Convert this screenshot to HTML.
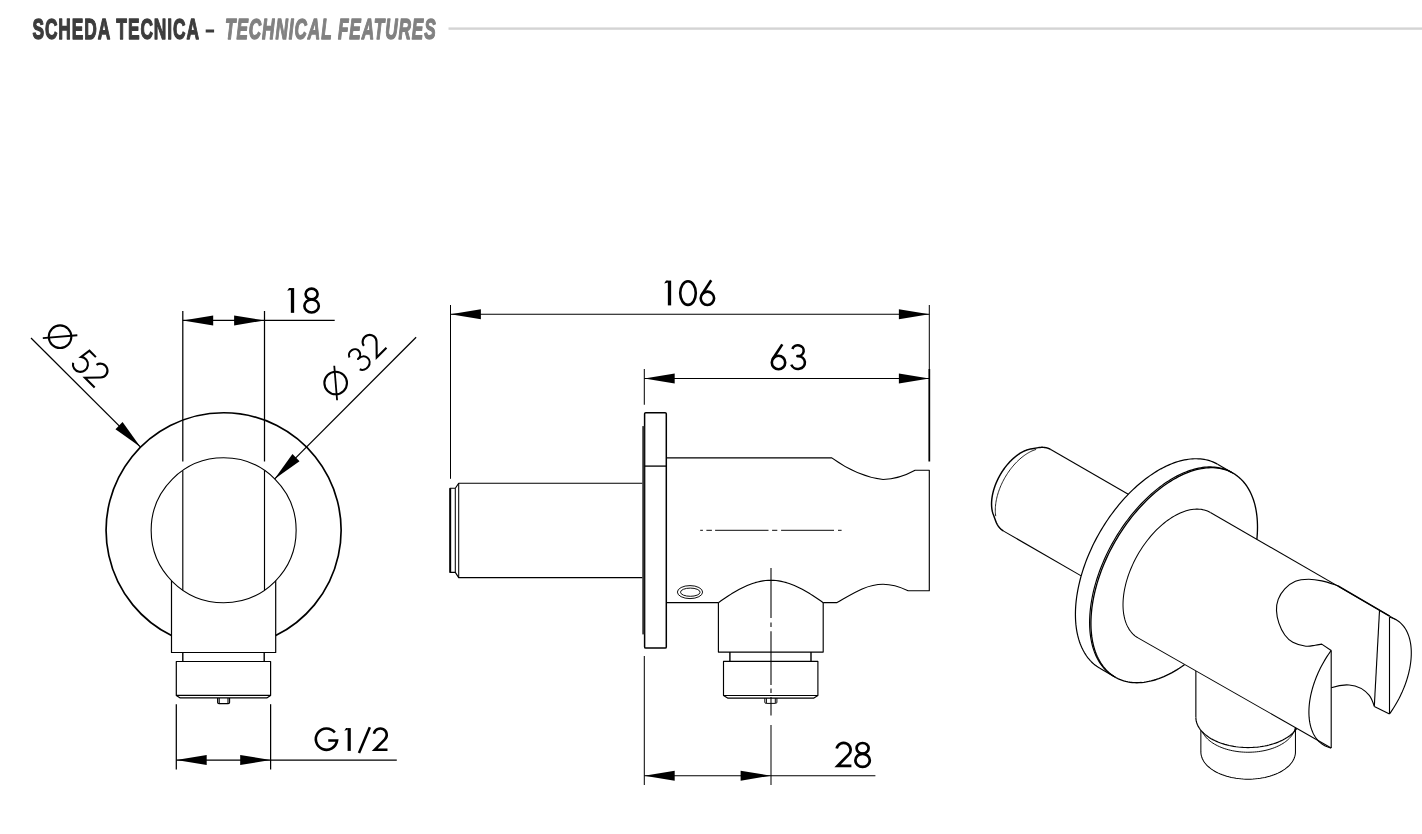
<!DOCTYPE html>
<html><head><meta charset="utf-8"><title>Scheda tecnica</title>
<style>
html,body{margin:0;padding:0;background:#fff;}
body{width:1422px;height:834px;overflow:hidden;font-family:"Liberation Sans",sans-serif;}
svg{display:block}
</style></head><body>
<svg width="1422" height="834" viewBox="0 0 1422 834">
<rect width="1422" height="834" fill="#fff"/>
<g style="filter:grayscale(1)"><text x="32.4" y="39.3" font-family="Liberation Sans, sans-serif" font-weight="bold" font-size="30.3" fill="#3c3c3e" stroke="#3c3c3e" stroke-width="1.4" stroke-linejoin="round" letter-spacing="1.6" textLength="167.6" lengthAdjust="spacingAndGlyphs">SCHEDA TECNICA</text><rect x="205.7" y="29.5" width="8.4" height="3.0" fill="#3c3c3e" stroke="none"/><text x="225.0" y="39.3" font-family="Liberation Sans, sans-serif" font-weight="bold" font-style="italic" font-size="30.3" fill="#808184" stroke="#808184" stroke-width="1.4" stroke-linejoin="round" letter-spacing="1.6" textLength="211.6" lengthAdjust="spacingAndGlyphs">TECHNICAL FEATURES</text><rect x="448.5" y="27.4" width="973.5" height="2.4" fill="#d4d4d4" stroke="none"/></g>
<g fill="none" stroke="#000" stroke-linecap="butt" stroke-linejoin="round">
<circle cx="223.65" cy="530.3" r="72.5" stroke-width="1.1"/>
<path d="M171.5,635.59 A117.5,117.5 0 1 1 275.7,635.59" stroke-width="1.68" />
<path d="M171.5,580.66 L171.5,652.5 L275.7,652.5 L275.7,580.66" stroke-width="1.2" />
<line x1="182.80" y1="470.40" x2="182.80" y2="590.20" stroke-width="1.15" />
<line x1="264.50" y1="470.40" x2="264.50" y2="590.20" stroke-width="1.15" />
<line x1="182.80" y1="311.00" x2="182.80" y2="461.50" stroke-width="1.25" />
<line x1="264.50" y1="311.00" x2="264.50" y2="461.50" stroke-width="1.25" />
<line x1="182.80" y1="320.40" x2="334.70" y2="320.40" stroke-width="1.25" />
<polygon points="182.80,320.40 213.20,315.40 213.20,325.40" fill="#000" stroke="none"/>
<polygon points="264.50,320.40 234.10,325.40 234.10,315.40" fill="#000" stroke="none"/>
<g transform="translate(292.50,312.85)"><path d="M0,0 L0,-24.8" fill="none" stroke="#000" stroke-width="3.30"/><polygon points="-1.5,-24.8 -3.4,-24.8 -5.3,-22.0 -1.5,-22.9" fill="#000" stroke="none"/></g><g transform="translate(311.60,312.85)"><ellipse cx="0" cy="-18.9" rx="6.0" ry="5.3" fill="none" stroke="#000" stroke-width="2.6"/><ellipse cx="0" cy="-6.9" rx="7.2" ry="6.5" fill="none" stroke="#000" stroke-width="2.6"/></g>
<line x1="182.80" y1="652.50" x2="182.80" y2="661.50" stroke-width="1.4" />
<line x1="264.20" y1="652.50" x2="264.20" y2="661.50" stroke-width="1.4" />
<path d="M176.3,661.5 L270.6,661.5 L270.6,695.4 L266.8,697.9 L180.2,697.9 L176.3,695.4 Z M176.3,695.4 L270.6,695.4" stroke-width="1.2" />
<path d="M217.6,697.9 L217.6,702.4 Q217.6,703.6 219,703.6 L228.2,703.6 Q229.6,703.6 229.6,702.4 L229.6,697.9 M219.2,697.9 L219.2,703.2 M228,697.9 L228,703.2" stroke-width="1.1" />
<line x1="176.30" y1="704.20" x2="176.30" y2="769.50" stroke-width="1.25" />
<line x1="270.60" y1="704.20" x2="270.60" y2="769.50" stroke-width="1.25" />
<line x1="176.30" y1="760.00" x2="396.80" y2="760.00" stroke-width="1.25" />
<polygon points="176.30,760.00 206.70,755.00 206.70,765.00" fill="#000" stroke="none"/>
<polygon points="270.60,760.00 240.20,765.00 240.20,755.00" fill="#000" stroke="none"/>
<g transform="translate(326.40,750.90) scale(0.92)"><path d="M9.2,-20.0 A11.6,11.6 0 1 0 11.6,-11.3 L2.0,-11.3" fill="none" stroke="#000" stroke-width="2.7717391304347823" stroke-linejoin="miter"/></g><g transform="translate(349.20,750.90) scale(0.92)"><path d="M0,0 L0,-24.8" fill="none" stroke="#000" stroke-width="3.47"/><polygon points="-1.5,-24.8 -3.4,-24.8 -5.3,-22.0 -1.5,-22.9" fill="#000" stroke="none"/></g><g transform="translate(364.50,750.90) scale(0.92)"><path d="M-6.0,2.4 L5.8,-25.6" fill="none" stroke="#000" stroke-width="2.7717391304347823"/></g><g transform="translate(380.30,750.90) scale(0.92)"><path d="M-6.9,-18.6 A7.0,6.9 0 1 1 5.0,-12.6 L-6.0,-1.35 L7.8,-1.35" fill="none" stroke="#000" stroke-width="2.7717391304347823" stroke-linejoin="miter"/></g>
<line x1="31.00" y1="338.00" x2="140.50" y2="447.10" stroke-width="1.25" />
<polygon points="140.50,447.10 115.47,429.14 122.54,422.07" fill="#000" stroke="none"/>
<line x1="416.10" y1="337.20" x2="274.50" y2="479.10" stroke-width="1.25" />
<polygon points="274.50,479.10 292.46,454.07 299.53,461.14" fill="#000" stroke="none"/>
<g transform="translate(31.00,338.00) rotate(45)"><g transform="translate(19.60,-7.00)"><circle cx="0" cy="-14.5" r="11.3" fill="none" stroke="#000" stroke-width="2.1"/><path d="M-11.2,-1.3 L11.2,-27.7" fill="none" stroke="#000" stroke-width="1.80"/></g><g transform="translate(53.70,-8.70)"><path d="M5.7,-23.65 L-3.4,-23.65 L-4.9,-13.4 A7.5,7.5 0 1 1 -6.4,-3.5" fill="none" stroke="#000" stroke-width="2.1" stroke-linejoin="miter"/></g><g transform="translate(72.20,-8.70)"><path d="M-6.9,-18.6 A7.0,6.9 0 1 1 5.0,-12.6 L-6.0,-1.35 L7.8,-1.35" fill="none" stroke="#000" stroke-width="2.1" stroke-linejoin="miter"/></g></g>
<g transform="translate(274.50,479.10) rotate(-45)"><g transform="translate(111.20,-10.20)"><circle cx="0" cy="-14.5" r="11.3" fill="none" stroke="#000" stroke-width="2.1"/><path d="M-11.2,-1.3 L11.2,-27.7" fill="none" stroke="#000" stroke-width="1.80"/></g><g transform="translate(144.60,-12.40)"><path d="M-5.6,-20.6 A5.8,5.4 0 1 1 -0.6,-13.5 L0.2,-13.5 A7.0,6.4 0 1 1 -6.7,-5.0" fill="none" stroke="#000" stroke-width="2.1"/></g><g transform="translate(164.30,-12.40)"><path d="M-6.9,-18.6 A7.0,6.9 0 1 1 5.0,-12.6 L-6.0,-1.35 L7.8,-1.35" fill="none" stroke="#000" stroke-width="2.1" stroke-linejoin="miter"/></g></g>
<line x1="450.50" y1="305.00" x2="450.50" y2="478.80" stroke-width="1.012" />
<line x1="929.30" y1="305.00" x2="929.30" y2="369.00" stroke-width="1.012" />
<line x1="929.30" y1="369.00" x2="929.30" y2="461.50" stroke-width="1.76" />
<line x1="450.50" y1="314.30" x2="929.30" y2="314.30" stroke-width="1.012" />
<polygon points="450.50,314.30 480.90,309.30 480.90,319.30" fill="#000" stroke="none"/>
<polygon points="929.30,314.30 898.90,319.30 898.90,309.30" fill="#000" stroke="none"/>
<g transform="translate(669.50,305.40)"><path d="M0,0 L0,-24.8" fill="none" stroke="#000" stroke-width="3.30"/><polygon points="-1.5,-24.8 -3.4,-24.8 -5.3,-22.0 -1.5,-22.9" fill="#000" stroke="none"/></g><g transform="translate(688.00,305.40)"><ellipse cx="0" cy="-12.3" rx="7.8" ry="11.8" fill="none" stroke="#000" stroke-width="2.6"/></g><g transform="translate(707.40,305.40)"><ellipse cx="0" cy="-7.1" rx="6.7" ry="6.7" fill="none" stroke="#000" stroke-width="2.6"/><path d="M3.8,-25.2 L-5.9,-10.3" fill="none" stroke="#000" stroke-width="2.6"/></g>
<line x1="644.30" y1="369.00" x2="644.30" y2="404.70" stroke-width="1.012" />
<line x1="644.30" y1="378.40" x2="929.30" y2="378.40" stroke-width="1.012" />
<polygon points="644.30,378.40 674.70,373.40 674.70,383.40" fill="#000" stroke="none"/>
<polygon points="929.30,378.40 898.90,383.40 898.90,373.40" fill="#000" stroke="none"/>
<g transform="translate(778.50,369.60)"><ellipse cx="0" cy="-7.1" rx="6.7" ry="6.7" fill="none" stroke="#000" stroke-width="2.6"/><path d="M3.8,-25.2 L-5.9,-10.3" fill="none" stroke="#000" stroke-width="2.6"/></g><g transform="translate(798.00,369.60)"><path d="M-5.6,-20.6 A5.8,5.4 0 1 1 -0.6,-13.5 L0.2,-13.5 A7.0,6.4 0 1 1 -6.7,-5.0" fill="none" stroke="#000" stroke-width="2.6"/></g>
<path d="M642.5,483.2 L458.7,483.2 L455.3,488.3 L450,488.3 L450,572.4 L455.3,572.4 L458.7,577.6 L642.5,577.6" stroke-width="1.144" />
<line x1="450.30" y1="488.30" x2="450.30" y2="572.40" stroke-width="1.76" />
<line x1="455.30" y1="488.30" x2="455.30" y2="572.40" stroke-width="1.056" />
<line x1="458.70" y1="483.20" x2="458.70" y2="577.60" stroke-width="1.056" />
<path d="M644.6,413.8 Q644.6,412.7 645.8,412.7 L665.1,412.7 Q666.3,412.7 666.3,413.8 L666.3,646.9 Q666.3,648 665.1,648 L645.8,648 Q644.6,648 644.6,646.9 Z" stroke-width="1.496" />
<line x1="643.30" y1="426.10" x2="643.30" y2="634.40" stroke-width="2.112" stroke="#333"/>
<line x1="644.60" y1="466.10" x2="666.30" y2="466.10" stroke-width="1.32" />
<path d="M666.3,457.9 L831.8,457.9 Q857.5,476.55 883.1,479.5 Q898.9,479.15 915.1,470.3 L929.3,470.3 L929.3,590.7 L908.1,590.7 C900,587 892,584.3 883.1,584.3 C866,584.3 852,594 837.0,602.6 L823.2,602.6" stroke-width="1.144" />
<line x1="666.30" y1="602.60" x2="718.40" y2="602.60" stroke-width="1.144" />
<path d="M718.40,602.70 L721.02,600.83 L723.64,599.00 L726.26,597.23 L728.88,595.52 L731.50,593.86 L734.12,592.28 L736.74,590.77 L739.36,589.33 L741.98,587.98 L744.60,586.71 L747.22,585.55 L749.84,584.48 L752.46,583.52 L755.08,582.67 L757.70,581.95 L760.32,581.35 L762.94,580.87 L765.56,580.53 L768.18,580.33 L770.80,580.26 L773.42,580.33 L776.04,580.53 L778.66,580.87 L781.28,581.35 L783.90,581.95 L786.52,582.67 L789.14,583.52 L791.76,584.48 L794.38,585.55 L797.00,586.71 L799.62,587.98 L802.24,589.33 L804.86,590.77 L807.48,592.28 L810.10,593.86 L812.72,595.52 L815.34,597.23 L817.96,599.00 L820.58,600.83 L823.20,602.70" stroke-width="1.144" />
<path d="M718.4,602.6 L718.4,652.1 L823.2,652.1 L823.2,602.6" stroke-width="1.144" />
<line x1="729.90" y1="652.10" x2="729.90" y2="661.40" stroke-width="1.408" />
<line x1="811.00" y1="652.10" x2="811.00" y2="661.40" stroke-width="1.408" />
<path d="M723.5,661.4 L817.9,661.4 L817.9,695.5 L813.9,698.1 L727.6,698.1 L723.5,695.5 Z M723.5,695.5 L817.9,695.5" stroke-width="1.144" />
<path d="M764.8,698.1 L764.8,702.2 Q764.8,703.4 766.2,703.4 L775.5,703.4 Q776.9,703.4 776.9,702.2 L776.9,698.1 M766.4,698.1 L766.4,703 M775.3,698.1 L775.3,703" stroke-width="0.968" />
<ellipse cx="690" cy="592.1" rx="12.6" ry="6.5" stroke-width="0.95"/>
<ellipse cx="690.3" cy="592.2" rx="9.8" ry="4.1" stroke-width="0.95"/>
<path d="M700.2,530.3 H702.9 M706.4,530.3 H711.9 M715.1,530.3 H768.5 M772.1,530.3 H777.3 M781.1,530.3 H834 M838,530.3 H841.6" stroke-width="0.968" />
<path d="M771,568 V618 M771,622.6 V627 M771,631.3 V685 M771,688.5 V693 M771,697 V715.4" stroke-width="1.056" />
<line x1="771.00" y1="725.00" x2="771.00" y2="785.10" stroke-width="1.012" />
<line x1="644.30" y1="656.10" x2="644.30" y2="785.10" stroke-width="1.012" />
<line x1="644.30" y1="775.70" x2="875.40" y2="775.70" stroke-width="1.012" />
<polygon points="644.30,775.70 674.70,770.70 674.70,780.70" fill="#000" stroke="none"/>
<polygon points="771.00,775.70 740.60,780.70 740.60,770.70" fill="#000" stroke="none"/>
<g transform="translate(843.60,767.20)"><path d="M-6.9,-18.6 A7.0,6.9 0 1 1 5.0,-12.6 L-6.0,-1.35 L7.8,-1.35" fill="none" stroke="#000" stroke-width="2.7" stroke-linejoin="miter"/></g><g transform="translate(862.60,767.20)"><ellipse cx="0" cy="-18.9" rx="6.0" ry="5.3" fill="none" stroke="#000" stroke-width="2.7"/><ellipse cx="0" cy="-6.9" rx="7.2" ry="6.5" fill="none" stroke="#000" stroke-width="2.7"/></g>
<path d="M1003.64,531.11 L1003.27,530.89 L1002.91,530.67 L1002.56,530.43 L1002.21,530.18 L1001.87,529.92 L1001.53,529.65 L1001.20,529.38 L1000.88,529.09 L1000.56,528.79 L1000.25,528.48 L999.94,528.17 L999.65,527.84 L999.36,527.51 L999.07,527.17 L998.80,526.81 L998.53,526.45 L998.26,526.08 L998.01,525.70 L997.76,525.31 L997.52,524.92 L997.28,524.51 L997.06,524.10 L996.84,523.67 L996.63,523.24 L996.42,522.81 L996.23,522.36 L996.04,521.90 L995.86,521.44 L993.15,514.12 L993.00,513.69 L992.86,513.26 L992.73,512.82 L992.60,512.38 L992.48,511.93 L992.37,511.47 L992.27,511.01 L992.17,510.54 L992.08,510.07 L992.00,509.59 L991.92,509.10 L991.85,508.61 L991.79,508.11 L991.73,507.61 L991.69,507.10 L991.65,506.59 L991.61,506.07 L991.59,505.55 L991.57,505.03 L991.56,504.49 L991.55,503.96 L991.56,503.42 L991.57,502.88 L991.59,502.33 L991.61,501.78 L991.65,501.22 L991.69,500.66 L991.73,500.10 L991.79,499.54 L991.85,498.97 L991.92,498.40 L992.00,497.82 L992.08,497.25 L992.17,496.67 L992.27,496.08 L992.37,495.50 L992.48,494.91 L992.60,494.33 L992.73,493.74 L992.86,493.14 L993.00,492.55 L993.15,491.96 L993.31,491.36 L993.47,490.76 L993.63,490.16 L993.81,489.57 L993.99,488.97 L994.18,488.37 L994.37,487.77 L994.58,487.16 L994.78,486.56 L995.00,485.96 L995.22,485.36 L995.45,484.76 L995.68,484.16 L995.92,483.56 L996.17,482.97 L996.42,482.37 L996.68,481.77 L996.94,481.18 L997.21,480.58 L997.49,479.99 L997.77,479.40 L998.06,478.81 L998.35,478.23 L998.65,477.64 L998.96,477.06 L999.27,476.48 L999.58,475.90 L999.91,475.33 L1000.23,474.76 L1000.56,474.19 L1000.90,473.63 L1001.24,473.06 L1001.59,472.50 L1001.94,471.95 L1002.30,471.40 L1002.66,470.85 L1003.02,470.31 L1003.39,469.77 L1003.77,469.23 L1004.15,468.70 L1004.53,468.17 L1004.92,467.65 L1005.31,467.14 L1005.70,466.62 L1006.10,466.12 L1006.50,465.61 L1006.91,465.12 L1007.32,464.62 L1007.73,464.14 L1008.15,463.66 L1008.57,463.18 L1008.99,462.71 L1009.42,462.25 L1009.84,461.79 L1010.28,461.34 L1010.71,460.90 L1011.15,460.46 L1011.59,460.03 L1012.03,459.60 L1012.47,459.19 L1012.92,458.77 L1013.36,458.37 L1013.81,457.97 L1014.27,457.58 L1014.72,457.20 L1015.17,456.82 L1015.63,456.46 L1016.09,456.09 L1016.55,455.74 L1017.01,455.40 L1017.47,455.06 L1017.93,454.73 L1018.39,454.41 L1018.86,454.09 L1019.32,453.79 L1019.79,453.49 L1020.25,453.20 L1020.72,452.92 L1021.18,452.64 L1021.65,452.38 L1022.11,452.12 L1022.58,451.88 L1023.04,451.64 L1023.51,451.41 L1023.97,451.19 L1024.43,450.97 L1024.90,450.77 L1025.36,450.58 L1025.82,450.39 L1026.28,450.21 L1026.73,450.05 L1027.19,449.89 L1027.64,449.74 L1028.10,449.60 L1028.55,449.47 L1029.00,449.34 L1029.45,449.23 L1029.89,449.13 L1030.34,449.03 L1030.78,448.95 L1038.47,447.63 L1038.96,447.55 L1039.45,447.49 L1039.94,447.44 L1040.42,447.40 L1040.90,447.36 L1041.37,447.34 L1041.84,447.33 L1042.31,447.33 L1042.78,447.34 L1043.24,447.36 L1043.69,447.39 L1044.15,447.44 L1044.59,447.49 L1045.04,447.55 L1045.48,447.63 L1045.91,447.71 L1046.34,447.81 L1046.77,447.91 L1047.19,448.03 L1047.60,448.15 L1048.02,448.29 L1048.42,448.44 L1048.82,448.60 L1049.22,448.76 L1049.61,448.94 L1049.99,449.13 L1050.37,449.33 L1050.74,449.54" stroke-width="1.462" />
<path d="M995.75,516.16 L995.59,515.01 L995.46,513.84 L995.37,512.64 L995.32,511.42 L995.30,510.17 L995.32,508.91 L995.37,507.62 L995.46,506.32 L995.58,505.00 L995.74,503.67 L995.93,502.32 L996.16,500.96 L996.43,499.59 L996.73,498.21 L997.06,496.82 L997.43,495.43 L997.83,494.03 L998.26,492.63 L998.72,491.23 L999.22,489.82 L999.75,488.42 L1000.31,487.02 L1000.90,485.62 L1001.52,484.24 L1002.17,482.85 L1002.85,481.48 L1003.55,480.12 L1004.28,478.77 L1005.04,477.43 L1005.83,476.10 L1006.63,474.80 L1007.46,473.51 L1008.32,472.24 L1009.19,470.99 L1010.09,469.76 L1011.00,468.55 L1011.94,467.37 L1012.89,466.21 L1013.86,465.09 L1014.84,463.98 L1015.84,462.91 L1016.86,461.87 L1017.88,460.86 L1018.92,459.88 L1019.96,458.94 L1021.02,458.03 L1022.08,457.16 L1023.16,456.32 L1024.23,455.52 L1025.31,454.76 L1026.40,454.04 L1027.48,453.35 L1028.57,452.71 L1029.66,452.11 L1030.74,451.55 L1031.83,451.04 L1032.91,450.56 L1033.98,450.14 L1035.05,449.75 L1036.11,449.41" stroke-width="0.86" />
<line x1="1050.74" y1="449.54" x2="1128.27" y2="494.30" stroke-width="1.118" />
<line x1="1003.64" y1="531.11" x2="1081.18" y2="575.88" stroke-width="1.118" />
<path d="M1099.81,668.27 L1098.29,667.35 L1096.81,666.35 L1095.37,665.29 L1093.98,664.16 L1092.63,662.96 L1091.33,661.70 L1090.07,660.37 L1088.86,658.97 L1087.69,657.52 L1086.58,656.00 L1085.51,654.41 L1084.50,652.77 L1083.53,651.07 L1082.62,649.31 L1081.76,647.50 L1080.95,645.62 L1080.20,643.70 L1079.49,641.72 L1078.85,639.69 L1078.26,637.60 L1077.72,635.47 L1077.24,633.30 L1076.81,631.07 L1076.44,628.80 L1076.13,626.49 L1075.87,624.14 L1075.68,621.75 L1075.53,619.32 L1075.45,616.85 L1075.42,614.35 L1075.45,611.81 L1075.53,609.25 L1075.68,606.65 L1075.87,604.03 L1076.13,601.38 L1076.44,598.71 L1076.81,596.02 L1077.24,593.30 L1077.72,590.57 L1078.26,587.82 L1078.85,585.05 L1079.50,582.27 L1080.20,579.48 L1080.95,576.69 L1081.76,573.88 L1082.62,571.07 L1083.53,568.26 L1084.50,565.44 L1085.51,562.63 L1086.58,559.82 L1087.69,557.01 L1088.86,554.21 L1090.07,551.41 L1091.33,548.63 L1092.63,545.86 L1093.98,543.10 L1095.38,540.36 L1096.81,537.64 L1098.29,534.94 L1099.82,532.25 L1101.38,529.59 L1102.98,526.96 L1104.62,524.35 L1106.30,521.78 L1108.01,519.23 L1109.76,516.71 L1111.54,514.23 L1113.35,511.79 L1115.19,509.38 L1117.07,507.01 L1118.97,504.68 L1120.90,502.39 L1122.86,500.15 L1124.84,497.95 L1126.84,495.80 L1128.86,493.70 L1130.91,491.65 L1132.98,489.65 L1135.06,487.70 L1137.16,485.80 L1139.27,483.96 L1141.40,482.18 L1143.54,480.45 L1145.69,478.79 L1147.84,477.18 L1150.01,475.63 L1152.18,474.15 L1154.36,472.73 L1156.54,471.37 L1158.72,470.08 L1160.90,468.85 L1163.07,467.69 L1165.25,466.60 L1167.42,465.58 L1169.59,464.62 L1171.75,463.74 L1173.89,462.93 L1176.03,462.18 L1178.16,461.51 L1180.27,460.91 L1182.37,460.38 L1184.46,459.93 L1186.52,459.54 L1188.57,459.23 L1190.59,459.00 L1192.59,458.83 L1194.58,458.74 L1196.53,458.73 L1198.46,458.79 L1200.36,458.92 L1202.24,459.12 L1204.08,459.40 L1205.89,459.76 L1207.68,460.18 L1209.42,460.68 L1211.14,461.25 L1212.81,461.89 L1214.45,462.60 L1216.05,463.39 L1217.61,464.24" stroke-width="1.204" />
<line x1="1217.61" y1="464.24" x2="1233.10" y2="473.19" stroke-width="1.204" />
<line x1="1099.81" y1="668.27" x2="1115.30" y2="677.21" stroke-width="1.204" />
<path d="M1256.86,539.33 L1257.14,536.20 L1257.34,533.12 L1257.46,530.07 L1257.50,527.07 L1257.45,524.11 L1257.33,521.20 L1257.13,518.34 L1256.85,515.54 L1256.49,512.80 L1256.05,510.12 L1255.53,507.49 L1254.94,504.94 L1254.27,502.45 L1253.51,500.03 L1252.69,497.68 L1251.79,495.41 L1250.81,493.21 L1249.76,491.10 L1248.64,489.06 L1247.44,487.11 L1246.18,485.24 L1244.84,483.46 L1243.44,481.76 L1241.97,480.16 L1240.44,478.64 L1238.84,477.22 L1237.19,475.90 L1235.47,474.67 L1233.69,473.53 L1231.85,472.49 L1229.96,471.56 L1228.02,470.72 L1226.02,469.98 L1223.97,469.34 L1221.88,468.81 L1219.74,468.37 L1217.56,468.04 L1215.33,467.82 L1213.07,467.69 L1210.77,467.67 L1208.43,467.75 L1206.06,467.94 L1203.66,468.23 L1201.23,468.62 L1198.78,469.11 L1196.30,469.71 L1193.80,470.40 L1191.28,471.20 L1188.74,472.10 L1186.20,473.10 L1183.63,474.19 L1181.07,475.38 L1178.49,476.67 L1175.91,478.05 L1173.33,479.53 L1170.75,481.10 L1168.17,482.75 L1165.60,484.50 L1163.03,486.33 L1160.48,488.25 L1157.94,490.26 L1155.42,492.34 L1152.91,494.50 L1150.43,496.75 L1147.96,499.06 L1145.53,501.45 L1143.12,503.91 L1140.74,506.44 L1138.39,509.04 L1136.07,511.70 L1133.80,514.42 L1131.56,517.20 L1129.36,520.03 L1127.21,522.92 L1125.10,525.85 L1123.04,528.84 L1121.03,531.87 L1119.06,534.94 L1117.16,538.05 L1115.30,541.19 L1113.50,544.37 L1111.77,547.58 L1110.09,550.81 L1108.47,554.07 L1106.92,557.35 L1105.43,560.64 L1104.00,563.95 L1102.65,567.27 L1101.36,570.60 L1100.14,573.93 L1099.00,577.26 L1097.92,580.60 L1096.92,583.92 L1096.00,587.24 L1095.14,590.54 L1094.37,593.84 L1093.67,597.11 L1093.05,600.36 L1092.51,603.59 L1092.04,606.79 L1091.66,609.96 L1091.35,613.10 L1091.12,616.20 L1090.98,619.26 L1090.91,622.28 L1090.92,625.25 L1091.01,628.18 L1091.19,631.05 L1091.44,633.87 L1091.77,636.64 L1092.18,639.34 L1092.67,641.99 L1093.24,644.57 L1093.89,647.08 L1094.61,649.52 L1095.41,651.90 L1096.29,654.20 L1097.24,656.42 L1098.26,658.56 L1099.36,660.63 L1100.53,662.61 L1101.77,664.51 L1103.08,666.32 L1104.45,668.05 L1105.90,669.69 L1107.41,671.23 L1108.98,672.69 L1110.62,674.05 L1112.32,675.31 L1114.08,676.48 L1115.89,677.55 L1117.76,678.52 L1119.69,679.40 L1121.67,680.17 L1123.70,680.84 L1125.77,681.41 L1127.90,681.88 L1130.07,682.25 L1132.28,682.51 L1134.53,682.68 L1136.82,682.73 L1139.14,682.69 L1141.50,682.54 L1143.89,682.29 L1146.31,681.93 L1148.75,681.47 L1151.22,680.91 L1153.72,680.25 L1156.23,679.49 L1158.76,678.63 L1161.30,677.67 L1163.86,676.61 L1166.43,675.45 L1169.00,674.20 L1171.58,672.85 L1174.16,671.40 L1176.74,669.87 L1179.32,668.24 L1181.89,666.53 L1184.46,664.72" stroke-width="1.333" />
<path d="M1231.80,472.44 L1230.24,471.58 L1228.64,470.80 L1227.00,470.08 L1225.32,469.44 L1223.61,468.87 L1221.86,468.37 L1220.08,467.95 L1218.27,467.59 L1216.42,467.32 L1214.55,467.11 L1212.65,466.98 L1210.72,466.92 L1208.76,466.94 L1206.78,467.02 L1204.78,467.19 L1202.75,467.42 L1200.71,467.73 L1198.64,468.12 L1196.56,468.57 L1194.46,469.10 L1192.35,469.70 L1190.22,470.37 L1188.08,471.12 L1185.93,471.93 L1183.77,472.81 L1181.61,473.77 L1179.44,474.79 L1177.26,475.88 L1175.08,477.04 L1172.90,478.27 L1170.72,479.56 L1168.54,480.92 L1166.37,482.34 L1164.20,483.82 L1162.03,485.37 L1159.87,486.98 L1157.72,488.64 L1155.58,490.37 L1153.46,492.15 L1151.34,493.99 L1149.24,495.89 L1147.16,497.84 L1145.10,499.84 L1143.05,501.89 L1141.03,503.99 L1139.02,506.14 L1137.04,508.34 L1135.09,510.58 L1133.16,512.87 L1131.25,515.20 L1129.38,517.57 L1127.54,519.98 L1125.72,522.42 L1123.94,524.90 L1122.19,527.42 L1120.48,529.97 L1118.81,532.54 L1117.17,535.15 L1115.56,537.79 L1114.00,540.44 L1112.48,543.13 L1111.00,545.83 L1109.56,548.55 L1108.17,551.29 L1106.82,554.05 L1105.51,556.82 L1104.26,559.60 L1103.04,562.40 L1101.88,565.20 L1100.77,568.01 L1099.70,570.82 L1098.68,573.63 L1097.72,576.45 L1096.81,579.26 L1095.95,582.07 L1095.14,584.88 L1094.38,587.68 L1093.68,590.46 L1093.04,593.24 L1092.44,596.01 L1091.91,598.76 L1091.43,601.49 L1091.00,604.21 L1090.63,606.90 L1090.32,609.57 L1090.06,612.22 L1089.86,614.85 L1089.72,617.44 L1089.63,620.01 L1089.61,622.54 L1089.63,625.04 L1089.72,627.51 L1089.86,629.94 L1090.06,632.33 L1090.32,634.68 L1090.63,636.99 L1091.00,639.26 L1091.43,641.49 L1091.91,643.66 L1092.44,645.79 L1093.03,647.88 L1093.68,649.91 L1094.38,651.89 L1095.14,653.81 L1095.95,655.69 L1096.81,657.50 L1097.72,659.26 L1098.68,660.96 L1099.70,662.61 L1100.76,664.19 L1101.88,665.71 L1103.04,667.17 L1104.25,668.56 L1105.51,669.89 L1106.82,671.15 L1108.17,672.35 L1109.56,673.48 L1111.00,674.55 L1112.48,675.54 L1114.00,676.46" stroke-width="1.161" />
<path d="M1138.00,637.90 L1136.61,637.03 L1135.27,636.07 L1134.00,635.01 L1132.78,633.86 L1131.63,632.62 L1130.55,631.29 L1129.53,629.87 L1128.59,628.37 L1127.71,626.79 L1126.90,625.13 L1126.17,623.39 L1125.51,621.58 L1124.93,619.69 L1124.42,617.74 L1123.99,615.72 L1123.64,613.64 L1123.36,611.50 L1123.16,609.30 L1123.05,607.05 L1123.01,604.76 L1123.05,602.41 L1123.16,600.03 L1123.36,597.60 L1123.64,595.14 L1123.99,592.66 L1124.42,590.14 L1124.93,587.60 L1125.51,585.04 L1126.17,582.47 L1126.90,579.88 L1127.71,577.29 L1128.59,574.70 L1129.53,572.10 L1130.55,569.51 L1131.63,566.93 L1132.78,564.37 L1134.00,561.81 L1135.27,559.28 L1136.61,556.78 L1138.00,554.30 L1139.45,551.85 L1140.95,549.45 L1142.51,547.08 L1144.11,544.75 L1145.76,542.47 L1147.45,540.24 L1149.19,538.07 L1150.96,535.95 L1152.77,533.89 L1154.61,531.90 L1156.48,529.97 L1158.38,528.11 L1160.30,526.33 L1162.25,524.62 L1164.21,522.99 L1166.19,521.44 L1168.18,519.97 L1170.18,518.59 L1172.19,517.29 L1174.20,516.09 L1176.21,514.97 L1178.22,513.95 L1180.22,513.02 L1182.21,512.19 L1184.19,511.46 L1186.15,510.82 L1188.10,510.28 L1190.02,509.85 L1191.92,509.51 L1193.79,509.28 L1195.63,509.14 L1197.44,509.11 L1199.22,509.18 L1200.95,509.35 L1202.64,509.63 L1204.29,510.00 L1205.89,510.48 L1207.45,511.06 L1208.95,511.73 L1210.40,512.50" stroke-width="1.032" />
<line x1="1210.40" y1="512.50" x2="1396.30" y2="619.83" stroke-width="1.032" />
<line x1="1338.00" y1="585.90" x2="1389.60" y2="616.10" stroke-width="1.634" />
<path d="M1389.50,617.16 L1390.82,617.51 L1392.12,617.92 L1393.38,618.40 L1394.60,618.94 L1395.80,619.55 L1396.95,620.22 L1398.07,620.96 L1399.15,621.76 L1400.18,622.62 L1401.18,623.54 L1402.14,624.52 L1403.05,625.56 L1403.92,626.66 L1404.74,627.82 L1405.52,629.03 L1406.25,630.30 L1406.94,631.62 L1407.57,633.00 L1408.16,634.42 L1408.70,635.89 L1409.19,637.41 L1409.63,638.98 L1410.02,640.59 L1410.35,642.25 L1410.64,643.94 L1410.88,645.68 L1411.06,647.45 L1411.19,649.26 L1411.27,651.10 L1411.29,652.97 L1411.27,654.88 L1411.19,656.81 L1411.06,658.77 L1410.88,660.75 L1410.64,662.76 L1410.35,664.78 L1410.02,666.83 L1409.63,668.89 L1409.19,670.96 L1408.70,673.05 L1408.16,675.14 L1407.57,677.24 L1406.94,679.35 L1406.25,681.46 L1405.52,683.58 L1404.74,685.69 L1403.92,687.80 L1403.05,689.90 L1402.14,692.00 L1401.18,694.08 L1400.18,696.16 L1399.15,698.22 L1398.07,700.26 L1396.95,702.29 L1395.80,704.29 L1394.60,706.28 L1393.38,708.23 L1392.12,710.17 L1390.82,712.07 L1389.50,713.95" stroke-width="1.118" />
<line x1="1389.50" y1="617.16" x2="1389.50" y2="713.95" stroke-width="1.118" />
<path d="M1331.20,748.01 L1329.85,747.68 L1328.53,747.29 L1327.24,746.83 L1325.99,746.30 L1324.77,745.71 L1323.59,745.04 L1322.45,744.32 L1321.34,743.53 L1320.28,742.67 L1319.26,741.75 L1318.28,740.77 L1317.35,739.73 L1316.46,738.63 L1315.62,737.47 L1314.82,736.25 L1314.07,734.98 L1313.37,733.65 L1312.72,732.27 L1312.12,730.84 L1311.56,729.35 L1311.06,727.82 L1310.61,726.24 L1310.21,724.61 L1309.87,722.94 L1309.57,721.22 L1309.33,719.47 L1309.15,717.68 L1309.01,715.85 L1308.93,713.98 L1308.91,712.09 L1308.93,710.16 L1309.01,708.20 L1309.15,706.22 L1309.33,704.21 L1309.57,702.18 L1309.87,700.12 L1310.21,698.05 L1310.61,695.97 L1311.06,693.86 L1311.56,691.75 L1312.12,689.63 L1312.72,687.50 L1313.37,685.36 L1314.07,683.23 L1314.82,681.09 L1315.62,678.95 L1316.46,676.82 L1317.35,674.69 L1318.28,672.57 L1319.26,670.46 L1320.28,668.36 L1321.34,666.28 L1322.45,664.22 L1323.59,662.17 L1324.77,660.15 L1325.99,658.15 L1327.24,656.17 L1328.53,654.22 L1329.85,652.31 L1331.20,650.42" stroke-width="1.118" />
<line x1="1331.20" y1="748.01" x2="1331.20" y2="650.42" stroke-width="1.118" />
<line x1="1138.00" y1="637.90" x2="1331.20" y2="748.01" stroke-width="1.032" />
<line x1="1379.50" y1="610.60" x2="1374.30" y2="706.40" stroke-width="1.118" />
<line x1="1374.30" y1="706.40" x2="1389.50" y2="713.95" stroke-width="1.118" />
<path d="M1331.2,687.7 C1338,685.5 1344,684.6 1349.1,685 C1358,685.8 1364.5,689.5 1369.3,695.4 C1371.8,698.6 1373,702.5 1374.3,706.4" stroke-width="1.118" />
<path d="M1338.30,585.70 C1335.55,584.90 1326.75,581.98 1321.80,580.90 C1316.85,579.82 1313.00,579.15 1308.60,579.20 C1304.20,579.25 1299.37,579.60 1295.40,581.20 C1291.43,582.80 1287.67,585.77 1284.80,588.80 C1281.93,591.83 1279.58,595.77 1278.20,599.40 C1276.82,603.03 1276.38,606.65 1276.50,610.60 C1276.62,614.55 1277.52,619.03 1278.90,623.10 C1280.28,627.17 1282.48,631.82 1284.80,635.00 C1287.12,638.18 1289.28,640.33 1292.80,642.20 C1296.32,644.07 1302.17,645.70 1305.90,646.20 C1309.63,646.70 1312.57,645.55 1315.20,645.20 C1317.83,644.85 1320.62,644.28 1321.70,644.10 L1331.20,650.42" stroke-width="1.118" />
<line x1="1195.86" y1="670.88" x2="1195.86" y2="717.35" stroke-width="1.118" />
<path d="M1195.86,717.35 L1195.92,718.74 L1196.09,720.13 L1196.36,721.52 L1196.75,722.89 L1197.25,724.25 L1197.85,725.60 L1198.56,726.93 L1199.38,728.24 L1200.30,729.53 L1201.33,730.79 L1202.45,732.02 L1203.67,733.22 L1204.98,734.39 L1206.39,735.52 L1207.88,736.61 L1209.46,737.66 L1211.12,738.67 L1212.87,739.63 L1214.68,740.55 L1216.57,741.42 L1218.52,742.23 L1220.54,742.99 L1222.62,743.70 L1224.75,744.35 L1226.93,744.95 L1229.15,745.48 L1231.42,745.96 L1233.72,746.37 L1236.05,746.73 L1238.41,747.02 L1240.79,747.25 L1243.18,747.41 L1245.59,747.51 L1248.00,747.55 L1250.41,747.52 L1252.82,747.43 L1255.21,747.27 L1257.59,747.05 L1259.95,746.77 L1262.29,746.43 L1264.60,746.02 L1266.87,745.55 L1269.10,745.02 L1271.28,744.44 L1273.42,743.79 L1275.51,743.09 L1277.53,742.34 L1279.50,741.53 L1281.39,740.67 L1283.22,739.76 L1284.97,738.80 L1286.64,737.80 L1288.24,736.76 L1289.74,735.67 L1291.16,734.54 L1292.49,733.38 L1293.72,732.18 L1294.85,730.96 L1295.89,729.70 L1296.83,728.42" stroke-width="1.204" />
<path d="M1202.53,732.12 L1203.15,733.34 L1203.87,734.53 L1204.69,735.71 L1205.60,736.86 L1206.60,737.98 L1207.69,739.08 L1208.87,740.15 L1210.14,741.19 L1211.48,742.19 L1212.90,743.15 L1214.40,744.07 L1215.97,744.95 L1217.61,745.79 L1219.32,746.59 L1221.09,747.34 L1222.91,748.04 L1224.79,748.69 L1226.72,749.29 L1228.70,749.84 L1230.72,750.33 L1232.77,750.77 L1234.86,751.15 L1236.98,751.48 L1239.12,751.75 L1241.28,751.96 L1243.46,752.12 L1245.65,752.22 L1247.84,752.25 L1250.03,752.23 L1252.22,752.15 L1254.40,752.02 L1256.56,751.82 L1258.71,751.57 L1260.84,751.26 L1262.93,750.89 L1265.00,750.47 L1267.03,749.99 L1269.02,749.46 L1270.96,748.87 L1272.86,748.24 L1274.70,747.55 L1276.49,746.82 L1278.21,746.04 L1279.87,745.21 L1281.47,744.34 L1282.99,743.43 L1284.43,742.48 L1285.80,741.49 L1287.09,740.46 L1288.29,739.40 L1289.41,738.32 L1290.44,737.20 L1291.37,736.05 L1292.22,734.89 L1292.97,733.70 L1293.62,732.49 L1294.18,731.26 L1294.64,730.03 L1295.00,728.78 L1295.25,727.52" stroke-width="0.946" />
<line x1="1200.86" y1="730.24" x2="1200.86" y2="751.89" stroke-width="1.032" />
<line x1="1295.46" y1="727.64" x2="1295.46" y2="751.89" stroke-width="1.032" />
<path d="M1200.86,751.89 L1200.93,753.32 L1201.12,754.75 L1201.45,756.16 L1201.90,757.57 L1202.48,758.96 L1203.18,760.33 L1204.01,761.68 L1204.95,763.00 L1206.02,764.29 L1207.20,765.54 L1208.49,766.76 L1209.90,767.94 L1211.40,769.08 L1213.01,770.16 L1214.72,771.20 L1216.51,772.18 L1218.40,773.11 L1220.36,773.98 L1222.40,774.79 L1224.51,775.54 L1226.69,776.22 L1228.93,776.84 L1231.21,777.39 L1233.55,777.86 L1235.92,778.27 L1238.33,778.60 L1240.76,778.86 L1243.22,779.05 L1245.69,779.16 L1248.16,779.20 L1250.64,779.16 L1253.11,779.05 L1255.56,778.86 L1258.00,778.60 L1260.41,778.27 L1262.78,777.86 L1265.11,777.39 L1267.40,776.84 L1269.64,776.22 L1271.81,775.54 L1273.93,774.79 L1275.97,773.98 L1277.93,773.11 L1279.81,772.18 L1281.61,771.20 L1283.31,770.16 L1284.92,769.08 L1286.43,767.94 L1287.83,766.76 L1289.13,765.54 L1290.31,764.29 L1291.37,763.00 L1292.32,761.68 L1293.15,760.33 L1293.85,758.96 L1294.43,757.57 L1294.88,756.16 L1295.20,754.75 L1295.40,753.32 L1295.46,751.89" stroke-width="1.032" />
</g>
</svg>
</body></html>
